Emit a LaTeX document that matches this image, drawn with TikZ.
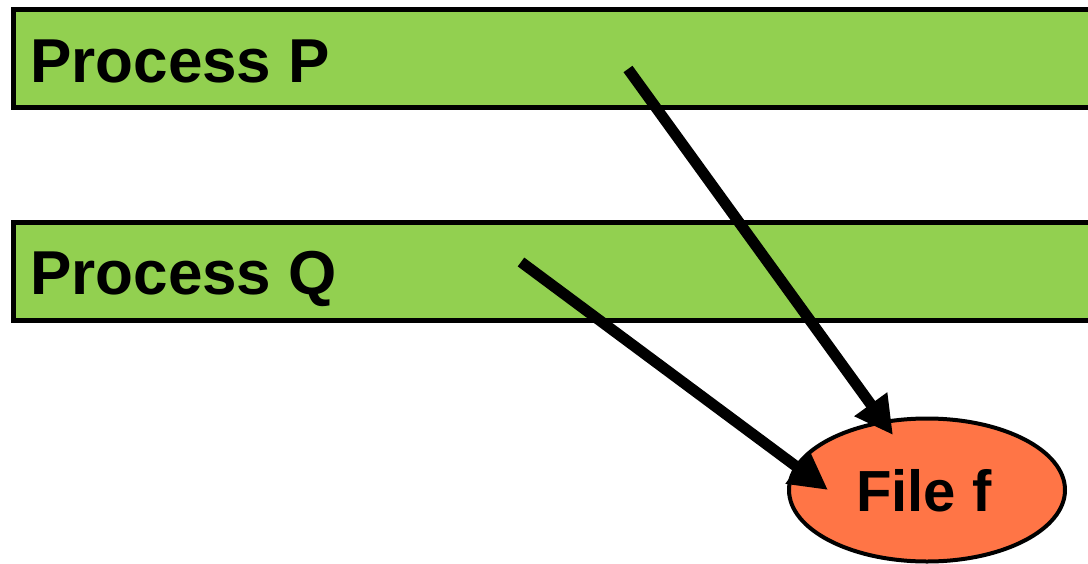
\documentclass[tikz,border=0pt]{standalone}
\usepackage{fontspec}
\setmainfont{Liberation Sans}
\usetikzlibrary{arrows.meta,shapes.geometric}
\definecolor{procgreen}{RGB}{146,208,80}
\definecolor{fileorange}{RGB}{255,117,70}
\tikzset{
  procbar/.style={draw=black, line width=5pt, fill=procgreen},
  proclabel/.style={inner sep=0pt, anchor=base west, font=\fontsize{62}{62}\selectfont\bfseries},
  filenode/.style={draw=black, line width=4pt, fill=fileorange, ellipse, minimum width=276pt, minimum height=143pt, inner sep=0pt},
  access/.style={line width=11pt, -{Triangle[length=38pt, width=38pt]}},
}
\begin{document}
\begin{tikzpicture}[x=1pt, y=-1pt]
  \useasboundingbox (0,0) rectangle (1088,563);
  \clip (0,0) rectangle (1088,563);
  \fill[white] (0,0) rectangle (1088,563);

  % process bars, running off the right edge
  \draw[procbar] (13.5,9.5) rectangle (1100,107.5);
  \draw[procbar] (13.5,222.5) rectangle (1100,320.5);
  \node[proclabel] (labP) at (30,82) {Process P};
  \node[proclabel] (labQ) at (30,294) {Process Q};

  % the shared file
  \node[filenode] (file) at (927,490) {};
  \node[inner sep=0pt, anchor=base west, font=\fontsize{58}{58}\selectfont\bfseries] (fileLabel) at (856,511) {File f};

  % access arrows
  \coordinate (pStart) at (628,69);
  \coordinate (qStart) at (521,262);
  \coordinate (pTip) at (893,435);
  \coordinate (qTip) at (828,490);
  \draw[access] (pStart) -- (pTip);
  \draw[access] (qStart) -- (qTip);
\end{tikzpicture}
\end{document}
